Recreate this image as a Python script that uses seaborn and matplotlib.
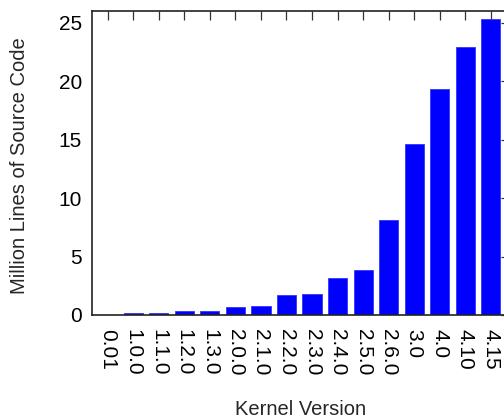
import matplotlib
matplotlib.use("Agg")
import matplotlib.pyplot as plt
import seaborn as sns
import pandas as pd

versions = ["0.01", "1.0.0", "1.1.0", "1.2.0", "1.3.0", "2.0.0", "2.1.0", "2.2.0",
            "2.3.0", "2.4.0", "2.5.0", "2.6.0", "3.0", "4.0", "4.10", "4.15"]
mloc = [0.01, 0.18, 0.21, 0.36, 0.36, 0.72, 0.77, 1.68, 1.77, 3.17, 3.85,
        8.15, 14.65, 19.35, 22.9, 25.3]

df = pd.DataFrame({"version": versions, "mloc": mloc})

sns.set_style("white")
plt.rcParams["font.family"] = ["Liberation Sans", "DejaVu Sans"]

fig = plt.figure(figsize=(5.04, 4.2), dpi=100)
# axes runs off the right edge, like the cropped original
ax = fig.add_axes([91.7 / 504, 1 - 315 / 420, (510 - 91.7) / 504, (315 - 11) / 420])

sns.barplot(data=df, x="version", y="mloc", color="#0000ff", saturation=1,
            width=0.75, edgecolor="#3333ff", linewidth=0.6, ax=ax)

ax.set_xlim(-0.625, 15.75)
ax.set_ylim(0, 26)
ax.set_yticks([0, 5, 10, 15, 20, 25])

for s in ax.spines.values():
    s.set_visible(True)
    s.set_linewidth(1.2)
    s.set_color("#222222")

ax.tick_params(axis="both", direction="in", length=6.5, width=0.9, color="#333333",
               top=True, right=True, labelsize=15, labelcolor="black")
ax.tick_params(axis="x", pad=10)
ax.tick_params(axis="y", pad=7)
plt.setp(ax.get_xticklabels(), rotation=-90, ha="center", va="top")

ax.set_xlabel("Kernel Version", fontsize=14.5)
ax.set_ylabel("Million Lines of Source Code", fontsize=14.5)
ax.xaxis.set_label_coords(0.5, -0.28)
ax.yaxis.set_label_coords((29 - 91.7) / (510 - 91.7), 0.49)

fig.savefig("out.png", dpi=100)
